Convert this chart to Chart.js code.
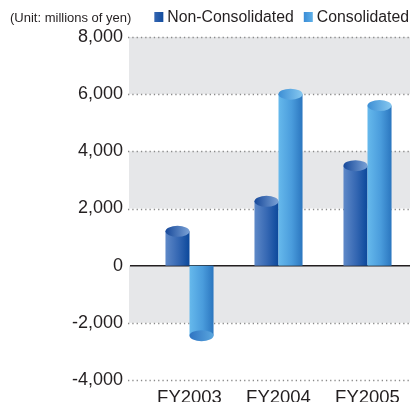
<!DOCTYPE html>
<html lang="en">
  <head>
    <meta charset="utf-8" />
    <title>Non-Consolidated vs Consolidated</title>
    <style>
      * {
        margin: 0;
        padding: 0;
      }
      body {
        background: #fff;
        overflow: hidden;
      }
      #myChart {
        display: block;
      }
    </style>
  </head>
  <body>
    <canvas id="myChart" width="412" height="402"></canvas>

    <script src="https://cdn.jsdelivr.net/npm/chart.js"></script>

    <script>
      // data block
      const categories = ["FY2003", "FY2004", "FY2005"];
      const seriesNames = ["Non-Consolidated", "Consolidated"];
      const nonConsolidated = [1200, 2250, 3500];
      const consolidated = [-2450, 6000, 5600];
      const yTickValues = [-4000, -2000, 0, 2000, 4000, 6000, 8000];
      const unitLabel = "(Unit: millions of yen)";

      const FONT = "Helvetica, Arial, 'Liberation Sans', sans-serif";
      const TEXT = "#231f20";

      // colours for each series: body, top cap, bottom cap, legend box
      const palette = [
        {
          body: ["#5f89c8", "#3366b2", "#0b489b"],
          cap: ["#17499a", "#7ba2d6"],
          low: ["#1c4f9f", "#4f7cc0"],
          box: ["#3566b2", "#0f4a9c"],
        },
        {
          body: ["#66b9ec", "#4a9cdc", "#2b76bf"],
          cap: ["#3d8fd5", "#86c8f0"],
          low: ["#2f74c2", "#5aa6de"],
          box: ["#3a8cd6", "#62b4ea"],
        },
      ];

      const data = {
        labels: categories,
        datasets: [
          {
            label: seriesNames[0],
            data: nonConsolidated,
            backgroundColor: "rgba(0,0,0,0)",
            borderWidth: 0,
            barPercentage: 1,
            categoryPercentage: 0.54,
          },
          {
            label: seriesNames[1],
            data: consolidated,
            backgroundColor: "rgba(0,0,0,0)",
            borderWidth: 0,
            barPercentage: 1,
            categoryPercentage: 0.54,
          },
        ],
      };

      // bands + dotted grid behind the bars
      const backdrop = {
        id: "backdrop",
        beforeDatasetsDraw(chart) {
          const { ctx, chartArea, scales } = chart;
          const y = scales.y;
          const left = chartArea.left - 16;
          const right = 410;
          ctx.save();
          // grey bands on every other interval
          const bands = [
            [6000, 8000],
            [2000, 4000],
            [-2000, 0],
          ];
          ctx.fillStyle = "#e6e7e9";
          bands.forEach(([lo, hi]) => {
            const top = y.getPixelForValue(hi);
            const bot = y.getPixelForValue(lo);
            ctx.fillRect(left, top, right - left, bot - top);
          });
          // dotted lines
          ctx.strokeStyle = "#8a8a8a";
          ctx.lineWidth = 1.3;
          ctx.setLineDash([1.3, 3]);
          yTickValues.forEach((v) => {
            if (v === 0) return;
            const py = Math.round(y.getPixelForValue(v)) + 0.5;
            ctx.beginPath();
            ctx.moveTo(left - 1, py);
            ctx.lineTo(right, py);
            ctx.stroke();
          });
          // zero line
          ctx.setLineDash([]);
          ctx.strokeStyle = "#231f20";
          ctx.lineWidth = 1.5;
          const zy = y.getPixelForValue(0);
          ctx.beginPath();
          ctx.moveTo(left + 1, zy);
          ctx.lineTo(right, zy);
          ctx.stroke();
          ctx.restore();
        },
      };

      // cylinders drawn on top of the (transparent) bar elements
      const cylinders = {
        id: "cylinders",
        afterDatasetsDraw(chart) {
          const { ctx } = chart;
          ctx.save();
          chart.data.datasets.forEach((ds, di) => {
            const meta = chart.getDatasetMeta(di);
            const col = palette[di];
            meta.data.forEach((bar) => {
              const { x, y, base, width } = bar.getProps(
                ["x", "y", "base", "width"],
                true
              );
              const l = x - width / 2;
              const r = x + width / 2;
              const ry = 5.5;

              const g = ctx.createLinearGradient(l, 0, r, 0);
              g.addColorStop(0, col.body[0]);
              g.addColorStop(0.55, col.body[1]);
              g.addColorStop(1, col.body[2]);
              ctx.fillStyle = g;
              ctx.fillRect(l, Math.min(y, base), width, Math.abs(base - y));

              const capCols = y > base ? col.low : col.cap;
              const c = ctx.createLinearGradient(l, 0, r, 0);
              c.addColorStop(0, capCols[0]);
              c.addColorStop(1, capCols[1]);
              ctx.fillStyle = c;
              ctx.beginPath();
              ctx.ellipse(x, y, width / 2, ry, 0, 0, Math.PI * 2);
              ctx.fill();
            });
          });
          ctx.restore();
        },
      };

      // unit note + legend at the top
      const header = {
        id: "header",
        afterDraw(chart) {
          const { ctx } = chart;
          ctx.save();
          ctx.textBaseline = "middle";
          ctx.fillStyle = TEXT;
          ctx.font = "13px " + FONT;
          ctx.fillText(unitLabel, 10, 18);

          ctx.font = "15.8px " + FONT;
          let x = 409;
          for (let i = seriesNames.length - 1; i >= 0; i--) {
            const w = ctx.measureText(seriesNames[i]).width;
            x -= w;
            ctx.fillStyle = TEXT;
            ctx.fillText(seriesNames[i], x, 18);
            const bx = x - 13;
            const g = ctx.createLinearGradient(bx, 0, bx + 10, 0);
            g.addColorStop(0, palette[i].box[0]);
            g.addColorStop(1, palette[i].box[1]);
            ctx.fillStyle = g;
            ctx.fillRect(bx, 12, 9, 10);
            x = bx - 10;
          }
          ctx.restore();
        },
      };

      // config block
      const config = {
        type: "bar",
        data: data,
        options: {
          responsive: false,
          animation: false,
          layout: {
            padding: { top: 37, right: 0, bottom: 0, left: 0 },
          },
          plugins: {
            legend: { display: false },
            tooltip: { enabled: false },
          },
          scales: {
            x: {
              grid: { display: false, drawTicks: false },
              border: { display: false },
              ticks: {
                padding: 6.5,
                color: TEXT,
                font: { size: 18.5, family: FONT },
              },
              afterFit(scale) {
                scale.height = 22;
              },
            },
            y: {
              min: -4000,
              max: 8000,
              grid: { display: false, drawTicks: false },
              border: { display: false },
              afterBuildTicks(scale) {
                scale.ticks = yTickValues.map((v) => ({ value: v }));
              },
              ticks: {
                padding: 22,
                color: TEXT,
                font: { size: 18, family: FONT },
                callback: (v) => Number(v).toLocaleString("en-US"),
              },
              afterFit(scale) {
                scale.width = 145;
                scale.paddingTop = 0;
                scale.paddingBottom = 0;
              },
            },
          },
        },
        plugins: [backdrop, cylinders, header],
      };

      // init render block
      const myChart = new Chart(document.getElementById("myChart"), config);
    </script>
  </body>
</html>
